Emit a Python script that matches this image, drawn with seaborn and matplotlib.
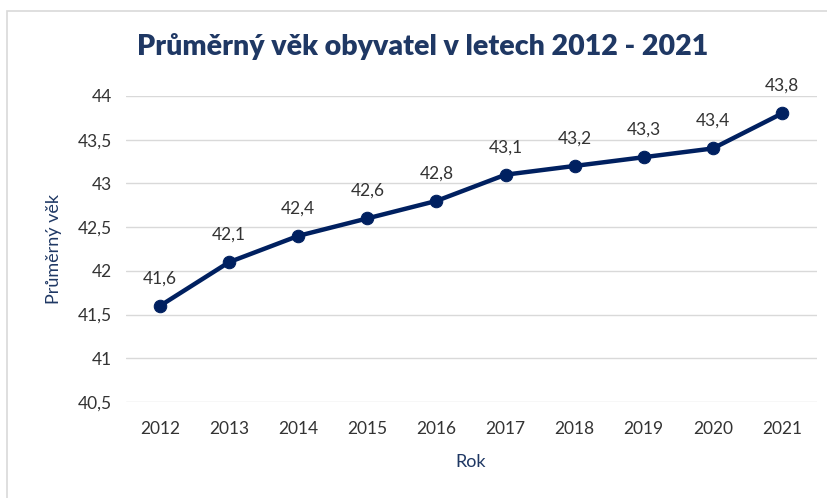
import matplotlib
matplotlib.use("Agg")
import matplotlib.pyplot as plt
import matplotlib.patches as mpatches
import seaborn as sns
import pandas as pd

years = ["2012", "2013", "2014", "2015", "2016", "2017", "2018", "2019", "2020", "2021"]
ages = [41.6, 42.1, 42.4, 42.6, 42.8, 43.1, 43.2, 43.3, 43.4, 43.8]
yticks = [40.5, 41, 41.5, 42, 42.5, 43, 43.5, 44]
ytick_labels = ["40,5", "41", "41,5", "42", "42,5", "43", "43,5", "44"]

df = pd.DataFrame({"Rok": years, "Vek": ages})

sns.set_theme(style="white")
plt.rcParams["font.family"] = ["Lato", "DejaVu Sans"]

W, H = 827, 498
fig = plt.figure(figsize=(W / 100, H / 100), dpi=100)
ax = fig.add_axes([125.5 / W, 1 - 402 / H, (816.5 - 125.5) / W, (402 - 96) / H])

navy = "#002060"
sns.lineplot(data=df, x="Rok", y="Vek", ax=ax, color=navy, linewidth=3.2,
             marker="o", markersize=9, markeredgecolor=navy, sort=False)

ax.set_xlim(-0.5, len(years) - 0.5)
ax.set_ylim(40.5, 44)
ax.set_yticks(yticks)
ax.set_yticklabels(ytick_labels)
ax.yaxis.grid(True, color="#d9d9d9", linewidth=1)
ax.set_axisbelow(True)
for s in ax.spines.values():
    s.set_visible(False)
ax.tick_params(axis="both", length=0, labelsize=12.5, colors="#333333", pad=10)
ax.tick_params(axis="x", pad=14)

for i, v in enumerate(ages):
    ax.annotate(f"{v:.1f}".replace(".", ","), (i, v), xytext=(0, 14),
                textcoords="offset points", ha="center", va="bottom",
                fontsize=12.5, color="#333333")

ax.set_xlabel("Rok", fontsize=13, color="#1F3864", labelpad=12)
ax.set_ylabel("Průměrný věk", fontsize=13, color="#1F3864", labelpad=11)

fig.text(423 / W, 1 - 47 / H, "Průměrný věk obyvatel v letech 2012 - 2021",
         ha="center", va="center", fontsize=20.5, fontweight="heavy", color="#1F3864")

border = mpatches.Rectangle((7 / W, -0.1), 1.2, 1 - 11 / H + 0.1, transform=fig.transFigure,
                            fill=False, edgecolor="#d9d9d9", linewidth=1.2)
fig.patches.append(border)

fig.savefig("out.png", dpi=100)
